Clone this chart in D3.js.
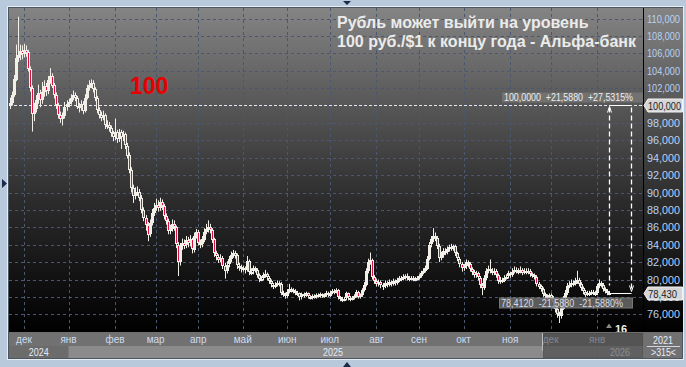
<!DOCTYPE html>
<html>
<head>
<meta charset="utf-8">
<script src="https://cdn.jsdelivr.net/npm/d3@7"></script>
<style>
body { margin: 0; background: #b9c9dc; }
svg { display: block; }
</style>
</head>
<body>
<div id="chart"></div>
<script>
// USD/RUB daily candles, first candle 21 Nov 2024, weekdays only
const startDate = new Date(2024, 10, 21);

const closes = [
  100.3,101.2,103.0,105.5,105.8,106.3,105.9,106.4,106.1,104.2,
  102.0,99.0,99.6,100.6,101.4,100.6,101.5,102.2,101.6,102.9,
  103.4,102.3,101.2,100.0,98.9,98.4,98.8,99.8,100.2,100.4,
  100.9,101.2,100.9,99.9,99.7,100.2,99.4,100.9,102.0,102.4,
  102.6,101.9,100.9,99.5,98.9,98.6,98.9,97.7,97.8,97.4,
  96.8,96.3,96.9,96.1,96.9,96.3,96.7,95.4,94.3,92.6,
  90.5,89.6,90.0,90.1,89.4,88.0,87.1,86.3,85.2,86.5,
  87.6,88.2,88.6,88.2,88.9,88.4,87.3,86.7,85.6,85.8,
  86.4,86.0,84.0,82.0,83.8,84.2,83.9,84.5,84.1,84.6,
  83.4,85.0,85.5,84.2,84.0,84.6,85.5,85.8,86.0,85.7,
  84.6,83.0,82.6,82.3,82.5,81.6,81.0,81.7,82.3,82.8,
  83.1,82.8,81.6,81.4,81.2,81.3,81.1,82.1,80.8,80.9,
  81.3,81.1,80.5,80.0,80.1,80.5,80.6,80.2,79.8,79.4,
  79.2,79.4,79.6,79.5,78.5,78.3,78.1,78.6,78.9,78.8,
  78.7,78.5,78.4,77.9,78.3,78.2,78.4,78.0,77.9,78.1,
  78.0,78.2,78.1,78.3,78.1,78.2,78.4,78.2,78.5,78.7,
  78.6,78.8,78.0,77.8,77.7,77.8,78.4,77.9,77.8,77.9,
  78.1,78.6,78.0,78.2,78.8,79.4,81.0,82.0,82.2,80.3,
  79.8,79.5,79.7,79.4,79.3,79.6,79.4,79.7,79.5,79.8,
  79.6,79.9,80.2,80.1,80.3,80.4,80.2,80.1,80.2,80.0,
  80.1,80.2,80.4,80.8,81.0,81.3,82.4,84.0,84.6,85.0,
  84.8,83.9,82.5,82.8,83.3,83.1,83.5,83.7,83.6,83.8,
  83.0,82.4,81.8,81.3,81.5,82.0,81.8,81.2,80.9,80.5,
  80.7,80.2,79.4,79.0,80.2,81.0,81.2,81.0,80.8,81.0,
  80.5,79.8,80.0,79.9,80.2,80.3,80.7,80.5,80.9,81.1,
  81.0,80.9,81.1,80.8,81.0,80.9,81.0,80.6,80.5,80.3,
  79.5,79.2,78.9,78.3,78.1,78.0,78.2,77.9,77.4,76.6,
  76.0,75.8,76.7,77.8,78.4,79.2,79.4,79.6,79.5,79.8,
  80.0,79.5,79.0,78.6,78.3,78.5,78.4,78.6,78.5,78.4,
  79.2,79.6,79.4,78.9,78.7,78.5,78.43
];

const opens = [
  100.0,100.3,101.2,103.0,105.5,105.8,106.3,105.9,106.4,106.1,
  104.2,102.0,99.0,99.6,100.6,101.4,100.6,101.5,102.2,101.6,
  102.9,103.4,102.3,101.2,100.0,98.9,98.4,98.8,99.8,100.2,
  100.4,100.9,101.2,100.9,99.9,99.7,100.2,99.4,100.9,102.0,
  102.4,102.6,101.9,100.9,99.5,98.9,98.6,98.9,97.7,97.8,
  97.4,96.8,96.3,96.9,96.1,96.9,96.3,96.7,95.4,94.3,
  92.6,90.5,89.6,90.0,90.1,89.4,88.0,87.1,86.3,85.2,
  86.5,87.6,88.2,88.6,88.2,88.9,88.4,87.3,86.7,85.6,
  85.8,86.4,86.0,84.0,82.0,83.8,84.2,83.9,84.5,84.1,
  84.6,83.4,85.0,85.5,84.2,84.0,84.6,85.5,85.8,86.0,
  85.7,84.6,83.0,82.6,82.3,82.5,81.6,81.0,81.7,82.3,
  82.8,83.1,82.8,81.6,81.4,81.2,81.3,81.1,82.1,80.8,
  80.9,81.3,81.1,80.5,80.0,80.1,80.5,80.6,80.2,79.8,
  79.4,79.2,79.4,79.6,79.5,78.5,78.3,78.1,78.6,78.9,
  78.8,78.7,78.5,78.4,77.9,78.3,78.2,78.4,78.0,77.9,
  78.1,78.0,78.2,78.1,78.3,78.1,78.2,78.4,78.2,78.5,
  78.7,78.6,78.8,78.0,77.8,77.7,77.8,78.4,77.9,77.8,
  77.9,78.1,78.6,78.0,78.2,78.8,79.4,81.0,82.0,82.2,
  80.3,79.8,79.5,79.7,79.4,79.3,79.6,79.4,79.7,79.5,
  79.8,79.6,79.9,80.2,80.1,80.3,80.4,80.2,80.1,80.2,
  80.0,80.1,80.2,80.4,80.8,81.0,81.3,82.4,84.0,84.6,
  85.0,84.8,83.9,82.5,82.8,83.3,83.1,83.5,83.7,83.6,
  83.8,83.0,82.4,81.8,81.3,81.5,82.0,81.8,81.2,80.9,
  80.5,80.7,80.2,79.4,79.0,80.2,81.0,81.2,81.0,80.8,
  81.0,80.5,79.8,80.0,79.9,80.2,80.3,80.7,80.5,80.9,
  81.1,81.0,80.9,81.1,80.8,81.0,80.9,81.0,80.6,80.5,
  80.3,79.5,79.2,78.9,78.3,78.1,78.0,78.2,77.9,77.4,
  76.6,76.0,75.8,76.7,77.8,78.4,79.2,79.4,79.6,79.5,
  79.8,80.0,79.5,79.0,78.6,78.3,78.5,78.4,78.6,78.5,
  78.4,79.2,79.6,79.4,78.9,78.7,78.5
];

const highs = [
  100.9,101.6,103.5,107.0,110.2,107.0,106.9,107.1,106.9,106.4,
  104.5,102.3,100.3,101.2,102.4,101.8,102.7,102.9,102.6,103.4,
  104.3,103.7,102.6,101.5,100.3,99.3,99.2,100.4,100.6,100.8,
  101.3,101.7,101.5,101.1,100.3,100.6,100.5,101.3,102.4,102.9,
  103.0,102.9,102.1,101.1,99.8,99.3,99.4,99.1,98.3,98.1,
  97.7,97.1,98.5,97.2,97.3,97.2,97.1,96.9,95.7,94.6,
  92.9,90.9,90.6,90.7,90.4,89.7,88.3,87.4,86.6,86.9,
  88.1,88.8,89.3,89.1,89.4,89.2,88.7,87.6,87.0,86.3,
  86.9,86.8,86.2,84.3,84.2,84.7,84.6,85.0,84.9,85.1,
  84.8,85.4,85.8,85.7,84.6,85.0,85.9,86.4,86.8,86.4,
  85.9,84.8,83.3,82.9,82.9,82.7,81.9,82.1,82.7,83.2,
  83.4,83.3,83.0,81.9,81.7,81.6,81.5,82.7,82.3,81.3,
  81.6,81.5,81.3,80.7,80.4,80.8,81.1,80.8,80.4,80.0,
  79.6,79.7,79.9,79.8,79.7,78.7,78.5,78.9,79.5,79.1,
  79.0,78.9,78.7,78.5,78.5,78.5,78.6,78.5,78.2,78.3,
  78.3,78.4,78.4,78.5,78.4,78.4,78.7,78.6,78.7,78.9,
  78.9,79.0,78.9,78.1,78.0,78.0,78.6,78.5,78.1,78.1,
  78.3,78.8,78.7,78.4,79.0,79.7,81.3,82.4,83.1,82.4,
  80.5,80.1,80.0,79.9,79.6,79.9,79.8,80.0,79.9,80.1,
  80.0,80.2,80.4,80.4,80.6,80.6,80.7,80.4,80.4,80.4,
  80.3,80.4,80.6,81.0,81.3,81.6,82.7,84.3,85.0,85.9,
  85.4,85.0,84.1,83.2,83.6,83.6,83.8,84.0,84.1,84.0,
  84.0,83.2,82.6,82.0,81.8,82.3,82.2,82.0,81.4,81.1,
  81.0,80.9,80.4,79.6,80.5,81.3,81.6,82.3,81.3,81.3,
  81.2,80.7,80.3,80.2,80.5,80.6,81.0,80.9,81.3,81.5,
  81.4,81.3,81.5,81.3,81.3,81.3,81.3,81.2,80.8,80.7,
  80.5,79.7,79.4,79.1,78.5,78.3,78.4,78.4,78.1,77.6,
  76.9,76.3,77.0,78.1,78.8,79.6,79.8,80.0,79.9,80.2,
  81.0,80.2,79.7,79.2,78.8,78.7,78.7,78.8,78.8,78.7,
  79.5,80.0,79.8,79.6,79.1,78.9,78.7
];

const lows = [
  99.6,100.0,101.0,102.8,105.0,105.2,105.3,105.5,105.6,103.9,
  101.6,97.0,98.2,99.2,100.2,99.8,100.2,101.0,101.1,101.3,
  102.5,102.0,100.8,99.6,98.5,98.0,97.7,98.5,99.4,99.8,
  100.1,100.6,100.5,99.6,99.2,99.4,99.0,99.2,100.7,101.7,
  102.0,101.5,100.5,99.1,98.5,98.2,98.3,97.3,97.3,97.0,
  96.4,95.9,96.0,95.7,95.8,95.0,95.9,95.0,93.9,92.2,
  90.0,88.8,89.2,89.6,89.0,87.6,86.7,85.6,84.4,84.9,
  86.2,87.3,87.9,87.8,87.9,88.0,86.9,86.3,85.2,85.2,
  85.5,85.6,83.6,80.4,81.6,83.4,83.5,83.6,83.7,83.8,
  83.0,83.1,84.7,83.9,83.6,83.7,84.3,85.2,85.4,85.3,
  84.2,82.6,82.2,81.9,82.0,81.2,80.1,80.7,81.4,82.0,
  82.5,82.4,81.2,81.0,80.8,80.9,80.7,80.9,80.5,80.5,
  80.6,80.8,80.2,79.7,79.8,79.9,80.2,79.9,79.5,79.1,
  78.9,79.0,79.2,79.2,78.2,78.0,77.8,77.9,78.4,78.5,
  78.4,78.2,78.1,77.6,77.7,77.9,78.0,77.8,77.7,77.7,
  77.8,77.8,77.9,77.9,77.9,77.9,78.0,78.0,78.0,78.3,
  78.3,78.4,77.7,77.5,77.4,77.5,77.6,77.6,77.5,77.6,
  77.7,77.9,77.8,77.8,78.0,78.6,79.2,80.7,81.7,80.0,
  79.5,79.2,79.2,79.0,78.8,79.0,79.1,79.2,79.2,79.3,
  79.3,79.4,79.7,79.8,79.9,80.0,79.9,79.8,79.9,79.8,
  79.8,79.9,80.0,80.2,80.6,80.8,81.1,82.2,83.7,84.3,
  84.4,83.5,82.0,82.2,82.5,82.8,82.9,83.2,83.3,83.3,
  82.7,82.1,81.4,80.9,81.0,81.2,81.4,80.9,80.5,80.2,
  80.2,79.9,79.0,78.2,78.8,79.9,80.7,80.7,80.5,80.5,
  80.2,79.5,79.5,79.6,79.7,80.0,80.1,80.2,80.3,80.7,
  80.7,80.6,80.7,80.5,80.6,80.6,80.6,80.3,80.2,80.0,
  79.2,78.9,78.6,78.0,77.8,77.7,77.8,77.6,77.0,76.2,
  75.6,75.0,75.5,76.5,77.5,78.2,79.0,79.1,79.2,79.3,
  79.5,79.2,78.7,78.3,78.0,78.1,78.1,78.2,78.2,78.1,
  78.2,79.0,79.1,78.6,78.4,78.2,78.2
];

const monthNames = ["янв","фев","мар","апр","май","июн","июл","авг","сен","окт","ноя","дек"];
const yTicks = d3.range(76, 111, 2);
const lastPrice = 78.43;
const targetPrice = 100;
const measureFrom = 78.412;
const titleLines = ["Рубль может выйти на уровень", "100 руб./$1 к концу года - Альфа-банк"];
const topNote = "100,0000  +21,5880  +27,5315%";
const bottomNote = "78,4120  -21,5880  -21,5880%";

const width = 686, height = 367;
const plot = { l: 9, t: 8, r: 643, b: 332 };
const uiFont = "'Liberation Sans', Arial, sans-serif";

const dates = [];
for (let d = new Date(startDate); dates.length < closes.length; d = d3.timeDay.offset(d, 1)) {
  if (d.getDay() % 6 !== 0) dates.push(new Date(d));
}
const n = closes.length;
const idx = d3.range(n);

const x = d3.scaleLinear().domain([0, n - 1]).range([9.8, 609.4]);
const y = d3.scaleLinear().domain([76, 110]).range([314.3, 18.5]);
const tickFmt = v => d3.format(".3f")(v).replace(".", ",");

const svg = d3.select("#chart").append("svg")
  .attr("width", width).attr("height", height)
  .style("font-family", uiFont);

const defs = svg.append("defs");
const grad = defs.append("linearGradient").attr("id", "bg")
  .attr("x1", 0).attr("y1", 0).attr("x2", 0).attr("y2", 1);
[[0, "#848484"], [0.3, "#575757"], [0.6, "#2b2b2b"], [1, "#000"]].forEach(s =>
  grad.append("stop").attr("offset", s[0]).attr("stop-color", s[1]));
defs.append("clipPath").attr("id", "clip").append("rect")
  .attr("x", plot.l).attr("y", plot.t).attr("width", plot.r - plot.l).attr("height", plot.b - plot.t);

// frame
svg.append("rect").attr("x", 0).attr("y", 0).attr("width", width).attr("height", height).attr("fill", "#b9c9dc");
svg.append("rect").attr("x", 7.5).attr("y", 6.5).attr("width", 676).attr("height", 353)
  .attr("fill", "none").attr("stroke", "#e4ecf4");
svg.append("rect").attr("x", 8.5).attr("y", 7.5).attr("width", 674).attr("height", 351)
  .attr("fill", "#6f6f6f").attr("stroke", "#4c5560");

// plot and right axis background
svg.append("rect").attr("x", plot.l).attr("y", plot.t).attr("width", plot.r - plot.l).attr("height", plot.b - plot.t)
  .attr("fill", "url(#bg)");
svg.append("rect").attr("x", plot.r + 1).attr("y", plot.t).attr("width", 682 - plot.r).attr("height", plot.b - plot.t)
  .attr("fill", "url(#bg)");
svg.append("line").attr("x1", plot.r + 0.5).attr("x2", plot.r + 0.5).attr("y1", plot.t).attr("y2", plot.b)
  .attr("stroke", "#000");

const g = svg.append("g").attr("clip-path", "url(#clip)");

// month starts (first trading day of each month)
const monthIdx = idx.filter(i => i > 0 && dates[i].getMonth() !== dates[i - 1].getMonth());

g.selectAll(".hgrid").data(yTicks).join("line")
  .attr("x1", plot.l).attr("x2", plot.r)
  .attr("y1", d => Math.round(y(d)) + 0.5).attr("y2", d => Math.round(y(d)) + 0.5)
  .attr("stroke", "#4a5672").attr("stroke-dasharray", "3,3");
g.selectAll(".vgrid").data(monthIdx).join("line")
  .attr("x1", i => Math.round(x(i)) + 0.5).attr("x2", i => Math.round(x(i)) + 0.5)
  .attr("y1", plot.t).attr("y2", plot.b)
  .attr("stroke", "#4a5672").attr("stroke-dasharray", "3,3");

// 100 level
g.append("line").attr("x1", plot.l).attr("x2", plot.r)
  .attr("y1", Math.round(y(targetPrice)) + 0.5).attr("y2", Math.round(y(targetPrice)) + 0.5)
  .attr("stroke", "#e8e8e8").attr("stroke-dasharray", "3,2");

// candles
const cx = i => Math.round(x(i));
const bodyTop = i => Math.round(y(Math.max(opens[i], closes[i])));
const bodyH = i => Math.max(2, Math.round(Math.abs(y(opens[i]) - y(closes[i]))));
g.selectAll(".wick").data(idx).join("line")
  .attr("x1", i => cx(i) + 0.5).attr("x2", i => cx(i) + 0.5)
  .attr("y1", i => y(highs[i])).attr("y2", i => y(lows[i]))
  .attr("stroke", "#f2eee8");
g.selectAll(".body").data(idx).join("rect")
  .attr("x", i => cx(i) - 1)
  .attr("y", bodyTop)
  .attr("width", 3)
  .attr("height", bodyH)
  .attr("fill", "#f2eee8");
g.selectAll(".down").data(idx.filter(i => closes[i] < opens[i] && bodyH(i) >= 3)).join("rect")
  .attr("x", i => cx(i))
  .attr("y", i => bodyTop(i) + 1)
  .attr("width", 1)
  .attr("height", i => bodyH(i) - 2)
  .attr("fill", "#dc1040");

// measurement tool
const mx1 = cx(n - 1) + 0.5, mx2 = mx1 + 22;
const yTop = Math.round(y(targetPrice)) + 0.5, yBot = Math.round(y(measureFrom)) + 0.5;
g.append("line").attr("x1", mx1).attr("x2", mx1).attr("y1", yTop + 2).attr("y2", yBot - 8)
  .attr("stroke", "#fff").attr("stroke-width", 1.3).attr("stroke-dasharray", "5,3");
g.append("line").attr("x1", mx2).attr("x2", mx2).attr("y1", yTop + 2).attr("y2", yBot - 4)
  .attr("stroke", "#fff").attr("stroke-width", 1.3).attr("stroke-dasharray", "5,3");
g.append("line").attr("x1", mx1).attr("x2", mx2).attr("y1", yTop).attr("y2", yTop).attr("stroke", "#fff");
g.append("line").attr("x1", mx1).attr("x2", mx2).attr("y1", yBot).attr("y2", yBot).attr("stroke", "#fff");
g.append("path").attr("d", `M${mx1 - 2},${yTop + 7}L${mx1},${yTop + 1}L${mx1 + 2},${yTop + 7}`)
  .attr("fill", "none").attr("stroke", "#fff");
g.append("path").attr("d", `M${mx2 - 2},${yBot - 8}L${mx2},${yBot - 2}L${mx2 + 2},${yBot - 8}`)
  .attr("fill", "none").attr("stroke", "#fff");

g.append("rect").attr("x", 502).attr("y", yTop - 13).attr("width", 141).attr("height", 10)
  .attr("fill", "#7a7a7a").attr("opacity", 0.75);
g.append("text").attr("x", 504).attr("y", yTop - 4.5).text(topNote)
  .attr("fill", "#eeeeee").attr("font-size", 10.5).style("white-space", "pre")
  .attr("textLength", 129).attr("lengthAdjust", "spacingAndGlyphs");
g.append("rect").attr("x", 499.5).attr("y", yBot + 4.5).attr("width", 133).attr("height", 10)
  .attr("fill", "#6a6a6a").attr("stroke", "#8a8a8a").attr("opacity", 0.85);
g.append("text").attr("x", 501).attr("y", yBot + 13.5).text(bottomNote)
  .attr("fill", "#d8dce4").attr("font-size", 11).style("white-space", "pre")
  .attr("textLength", 122).attr("lengthAdjust", "spacingAndGlyphs");

// bar counter
g.append("path").attr("d", "M606,328L609,323.5L612,328Z").attr("fill", "#8a8a8a");
g.append("text").attr("x", 615).attr("y", 333).text("16")
  .attr("fill", "#f0f0f0").attr("font-size", 11).attr("font-weight", "bold");

// headline + red label
svg.append("g").selectAll("text").data(titleLines).join("text")
  .attr("x", 337).attr("y", (d, i) => 28 + i * 19)
  .attr("fill", "#ebebeb").attr("font-size", 16).attr("font-weight", "bold")
  .text(d => d);
svg.append("text").attr("x", 130).attr("y", 94).text("100")
  .attr("fill", "#e60000").attr("font-size", 23).attr("font-weight", "bold");

// right axis
const ry = svg.append("g");
ry.selectAll("text").data(yTicks).join("text")
  .attr("x", 647).attr("y", d => y(d) + 4)
  .attr("fill", "#b8d2f4").attr("font-size", 10.5)
  .attr("textLength", 33).attr("lengthAdjust", "spacingAndGlyphs")
  .text(tickFmt);

function priceTag(v, len) {
  const yy = Math.round(y(v)) + 0.5;
  ry.append("path")
    .attr("d", `M${plot.r + 1},${yy}L${plot.r + 5},${yy - 6.5}H682.5V${yy + 6.5}H${plot.r + 5}Z`)
    .attr("fill", "#d6d6d6").attr("stroke", "#f4f4f4");
  ry.append("text").attr("x", 648).attr("y", yy + 4).text(tickFmt(v))
    .attr("fill", "#1c1c1c").attr("font-size", 10.5)
    .attr("textLength", len).attr("lengthAdjust", "spacingAndGlyphs");
}
priceTag(targetPrice, 33);
priceTag(lastPrice, 29);

// bottom axis
const bx = svg.append("g");
bx.append("rect").attr("x", plot.l).attr("y", 333).attr("width", plot.r - plot.l).attr("height", 13).attr("fill", "#717171");
const yearStarts = [0, ...monthIdx.filter(i => dates[i].getMonth() === 0), n];
const yearBands = d3.pairs(yearStarts).map(([a, b], k) => ({
  x0: k === 0 ? plot.l : x(a), x1: b === n ? plot.r : x(b), year: dates[a].getFullYear()
}));
bx.selectAll(".yb").data(yearBands).join("rect")
  .attr("x", d => d.x0).attr("y", 346).attr("width", d => d.x1 - d.x0).attr("height", 12)
  .attr("fill", (d, k) => k === 0 ? "#6c6c6c" : "#8b8b8b");
bx.selectAll(".yl").data(yearBands).join("text")
  .attr("x", d => (d.x0 + d.x1) / 2 - 10).attr("y", 356)
  .attr("fill", "#e4eaf6").attr("font-size", 11)
  .attr("textLength", 20).attr("lengthAdjust", "spacingAndGlyphs")
  .text(d => d.year);
bx.selectAll(".ml").data(monthIdx).join("text")
  .attr("x", i => x(i)).attr("y", 343).attr("text-anchor", "middle")
  .attr("fill", "#cfdaee").attr("font-size", 10)
  .text(i => monthNames[dates[i].getMonth()]);
bx.append("line").attr("x1", 542.5).attr("x2", 542.5).attr("y1", 333).attr("y2", 351).attr("stroke", "#bdbdbd");
bx.append("rect").attr("x", 543.5).attr("y", 333.5).attr("width", 99).attr("height", 24)
  .attr("fill", "#3e3e3e").attr("opacity", 0.55).attr("stroke", "#333");

// corner box
svg.append("rect").attr("x", 644).attr("y", 333).attr("width", 38).attr("height", 25).attr("fill", "#717171");
svg.append("line").attr("x1", 647).attr("x2", 680).attr("y1", 346.5).attr("y2", 346.5).attr("stroke", "#cfd6e0");
svg.append("text").attr("x", 653).attr("y", 344).text("2021")
  .attr("fill", "#e8eef8").attr("font-size", 11)
  .attr("textLength", 20).attr("lengthAdjust", "spacingAndGlyphs");
svg.append("text").attr("x", 651).attr("y", 356).text(">315<")
  .attr("fill", "#e8eef8").attr("font-size", 11)
  .attr("textLength", 25).attr("lengthAdjust", "spacingAndGlyphs");

// frame markers
svg.append("path").attr("d", "M343,1L351,1L347,5Z").attr("fill", "#1b2a46");
svg.append("path").attr("d", "M2,179L7,183.5L2,188Z").attr("fill", "#1b2a46");
svg.append("path").attr("d", "M343,367L351,367L347,362Z").attr("fill", "#1b2a46");
</script>
</body>
</html>
